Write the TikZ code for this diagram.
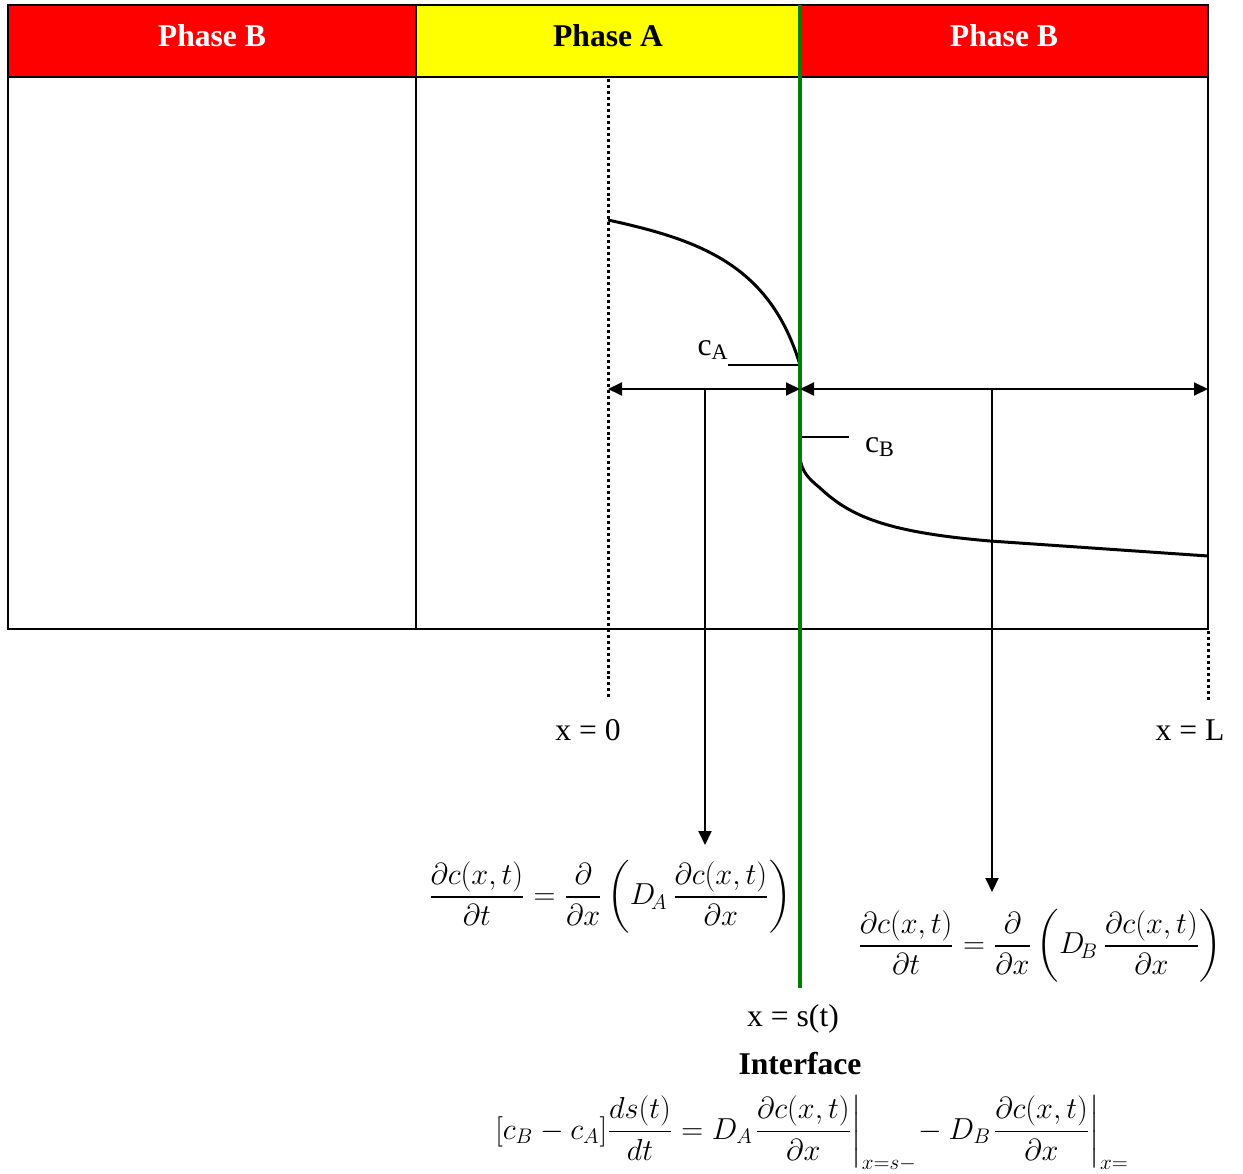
\documentclass[tikz,border=0pt]{standalone}
\usepackage{amsmath}
\usepackage{fontspec}
\setmainfont{Liberation Serif}
\usetikzlibrary{arrows.meta}
\definecolor{phasered}{RGB}{255, 0, 0}
\definecolor{phaseyellow}{RGB}{255, 255, 0}
\definecolor{ifacegreen}{RGB}{0, 128, 0}

\begin{document}
\begin{tikzpicture}[
        x=0.2mm, y=-0.2mm,
        every node/.style={align=center, font=\fontsize{18}{22}\selectfont},
        phase/.style={draw=black, line width=1.1pt, minimum height=14.4mm, text depth=2mm, font=\fontsize{18}{22}\selectfont\bfseries},
        profile/.style={line width=1.7pt, line join=round},
        boundary/.style={line width=1.7pt, dash pattern=on 1.7pt off 1.7pt},
        dimline/.style={line width=1.1pt, {Triangle[length=2.8mm,width=2.6mm]}-{Triangle[length=2.8mm,width=2.6mm]}},
        eqarrow/.style={line width=1.1pt, -{Triangle[length=2.8mm,width=2.6mm]}},
        eqn/.style={inner sep=0pt, font=\fontsize{17}{20}\selectfont}
    ]
        \useasboundingbox (0,0) rectangle (1243,1174);

        % Phases
        \node[phase, fill=phasered, text=white, minimum width=81.6mm] (phaseBl) at (212,41) {Phase B};
        \node[phase, fill=phaseyellow, minimum width=76.8mm] (phaseA) at (608,41) {Phase A};
        \node[phase, fill=phasered, text=white, minimum width=81.6mm] (phaseBr) at (1004,41) {Phase B};

        % Domain
        \draw[line width=1.1pt] (8,77) rectangle (1208,629);
        \draw[line width=1.1pt] (416,77) -- (416,629);
        \draw[boundary] (608,79) -- (608,700);
        \draw[boundary] (1208,631) -- (1208,700);

        % Concentration profiles
        \draw[profile] (608,220) .. controls (700,240) and (770,265) .. (800,365);
        \draw[profile] (800,437) -- (800,458) .. controls (802,472) and (808,478) .. (820,488)
            .. controls (850,516) and (885,532) .. (990,541) -- (1208,556);
        \draw[line width=1pt] (728,365) -- (800,365);
        \draw[line width=1pt] (800,437) -- (849,437);
        \node (cA) at (713,350) {c\textsubscript{A}};
        \node (cB) at (880,447) {c\textsubscript{B}};

        % Interface
        \draw[ifacegreen, line width=2pt] (800,5) -- (800,988);

        % Boundaries
        \coordinate (x0) at (608,389);
        \coordinate (xs) at (800,389);
        \coordinate (xL) at (1208,389);
        \coordinate (midA) at (705,389);
        \coordinate (midB) at (992,389);
        \draw[dimline] (x0) -- (xs);
        \draw[dimline] (xs) -- (xL);
        \node (lblx0) at (588,730) {x = 0};
        \node (lblxL) at (1190,730) {x = L};
        \node[inner sep=0pt] (lblxs) at (793,1019) {x = s(t)};
        \node[inner sep=0pt, font=\fontsize{18}{22}\selectfont\bfseries] (iface) at (800,1064) {Interface};

        % Equations
        \node[eqn] (eqA) at (610,897) {$\dfrac{\partial c(x,t)}{\partial t}=\dfrac{\partial}{\partial x}\left(D_{\!A}\,\dfrac{\partial c(x,t)}{\partial x}\right)$};
        \node[eqn] (eqB) at (1040,946) {$\dfrac{\partial c(x,t)}{\partial t}=\dfrac{\partial}{\partial x}\left(D_{\!B}\,\dfrac{\partial c(x,t)}{\partial x}\right)$};
        \node[eqn] (eqS) at (812,1133) {$\left[c_B-c_A\right]\!\dfrac{ds(t)}{dt}=D_A\!\left.\dfrac{\partial c(x,t)}{\partial x}\right|_{x=s-}\!-D_B\!\left.\dfrac{\partial c(x,t)}{\partial x}\right|_{x=}$};

        % Arrows
        \draw[eqarrow] (midA) -- (705,845);
        \draw[eqarrow] (midB) -- (992,892);
    \end{tikzpicture}
\end{document}
